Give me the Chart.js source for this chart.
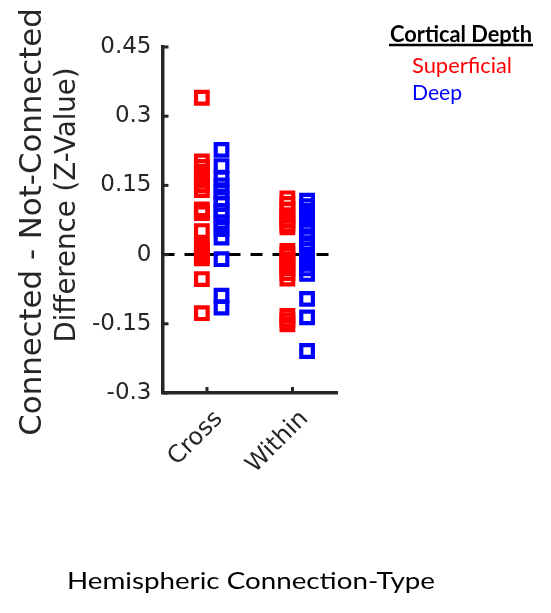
<!DOCTYPE html>
<html>
<head>
<meta charset="utf-8">
<script src="https://cdn.jsdelivr.net/npm/chart.js@4.4.0/dist/chart.umd.min.js"></script>
<style>
  html, body { margin: 0; padding: 0; background: #fff; }
</style>
</head>
<body>
<canvas id="chart" width="551" height="613"></canvas>
<script>
// Categorías del eje x y marcas del eje y
const categories = ['Cross', 'Within'];
const yTicks = [-0.3, -0.15, 0, 0.15, 0.3, 0.45];
const seriesNames = ['Superficial', 'Deep'];

// Valores (Z-Value)
const superficialCross = [0.34, 0.202, 0.19, 0.18, 0.17, 0.16, 0.15, 0.14,
  0.098, 0.094, 0.09, 0.051, 0.017, 0.01, 0.003, -0.003, -0.008, -0.053, -0.127];
const superficialWithin = [0.122, 0.11, 0.098, 0.085, 0.075, 0.065, 0.059,
  0.008, 0.0, -0.01, -0.02, -0.03, -0.04, -0.052, -0.133, -0.142, -0.151];
const deepCross = [0.227, 0.192, 0.165, 0.15, 0.135, 0.12, 0.11, 0.095, 0.085,
  0.07, 0.055, 0.037, -0.01, -0.089, -0.115];
const deepWithin = [0.117, 0.105, 0.095, 0.085, 0.077, 0.065, 0.05, 0.035, 0.02,
  0.01, 0.0, -0.01, -0.02, -0.03, -0.042, -0.096, -0.136, -0.209];

const RED = '#ff0000';
const BLUE = '#0000ff';
const AXIS_COLOR = '#262626';
const X_MIN = 0.48;
const X_MAX = 2.52;
const RED_OFFSET = -0.06;
const BLUE_OFFSET = 0.17;

// Convertir valores a puntos {x, y}
function toPoints(values, catIndex, offset) {
  return values.map(v => ({ x: catIndex + 1 + offset, y: v }));
}

function formatTick(v) {
  return String(Math.round(v * 100) / 100);
}

// Escribir texto ajustado a un ancho dado (escala horizontal)
function fillTextFit(ctx, text, left, baseline, width) {
  const measured = ctx.measureText(text).width;
  ctx.save();
  ctx.translate(left, baseline);
  ctx.scale(width / measured, 1);
  ctx.textAlign = 'left';
  ctx.fillText(text, 0, 0);
  ctx.restore();
}

// Textos: títulos de ejes, leyenda y marcas hacia adentro
const decorPlugin = {
  id: 'decor',
  afterDraw(chart) {
    const { ctx, chartArea, scales } = chart;
    const x = scales.x;
    const y = scales.y;
    ctx.save();

    // marcas hacia adentro
    ctx.strokeStyle = AXIS_COLOR;
    ctx.lineWidth = 3;
    yTicks.forEach(v => {
      const py = y.getPixelForValue(v);
      ctx.beginPath();
      ctx.moveTo(chartArea.left, py);
      ctx.lineTo(chartArea.left + 6, py);
      ctx.stroke();
    });
    categories.forEach((c, i) => {
      const px = x.getPixelForValue(i + 1);
      ctx.beginPath();
      ctx.moveTo(px, chartArea.bottom);
      ctx.lineTo(px, chartArea.bottom - 6);
      ctx.stroke();
    });

    // título del eje y (dos líneas)
    ctx.fillStyle = AXIS_COLOR;
    ctx.textAlign = 'center';
    ctx.textBaseline = 'middle';
    ctx.save();
    ctx.translate(33, 222);
    ctx.rotate(-Math.PI / 2);
    ctx.font = '30.8px "DejaVu Sans"';
    ctx.fillText('Connected - Not-Connected', 0, 0);
    ctx.restore();
    ctx.save();
    ctx.translate(68, 205);
    ctx.rotate(-Math.PI / 2);
    ctx.font = '27.6px "DejaVu Sans"';
    ctx.fillText('Difference (Z-Value)', 0, 0);
    ctx.restore();

    // título del eje x
    ctx.fillStyle = '#000';
    ctx.textBaseline = 'alphabetic';
    ctx.font = '24px Lato';
    fillTextFit(ctx, 'Hemispheric Connection-Type', 67, 588.5, 368);

    // leyenda
    ctx.font = 'bold 22px Lato';
    fillTextFit(ctx, 'Cortical Depth', 390, 41.5, 142);
    ctx.strokeStyle = '#000';
    ctx.lineWidth = 2.5;
    ctx.beginPath();
    ctx.moveTo(389, 45);
    ctx.lineTo(533, 45);
    ctx.stroke();
    ctx.font = '22px Lato';
    ctx.fillStyle = RED;
    fillTextFit(ctx, seriesNames[0], 412, 72.5, 100);
    ctx.fillStyle = BLUE;
    fillTextFit(ctx, seriesNames[1], 412, 99.5, 50);

    ctx.restore();
  }
};

const ctx = document.getElementById('chart');
new Chart(ctx, {
  type: 'scatter',
  data: {
    datasets: [
      {
        label: seriesNames[0],
        data: toPoints(superficialCross, 0, RED_OFFSET).concat(toPoints(superficialWithin, 1, RED_OFFSET)),
        pointStyle: 'rect',
        pointRadius: 8.2,
        pointBorderWidth: 4.2,
        pointBorderColor: RED,
        pointBackgroundColor: 'rgba(0,0,0,0)',
        order: 2
      },
      {
        label: seriesNames[1],
        data: toPoints(deepCross, 0, BLUE_OFFSET).concat(toPoints(deepWithin, 1, BLUE_OFFSET)),
        pointStyle: 'rect',
        pointRadius: 8.2,
        pointBorderWidth: 4.2,
        pointBorderColor: BLUE,
        pointBackgroundColor: 'rgba(0,0,0,0)',
        order: 1
      },
      {
        type: 'line',
        label: 'zero',
        data: [{ x: X_MIN, y: 0 }, { x: X_MAX, y: 0 }],
        borderColor: '#000',
        borderWidth: 3,
        borderDash: [12, 10],
        pointRadius: 0,
        order: 3
      }
    ]
  },
  options: {
    responsive: false,
    animation: false,
    devicePixelRatio: 1,
    events: [],
    layout: { padding: { top: 47, right: 214, left: 0, bottom: 0 } },
    plugins: {
      legend: { display: false },
      tooltip: { enabled: false }
    },
    scales: {
      x: {
        type: 'linear',
        min: X_MIN,
        max: X_MAX,
        afterBuildTicks: s => { s.ticks = categories.map((c, i) => ({ value: i + 1 })); },
        afterFit: s => { s.height = 220; },
        ticks: {
          callback: v => categories[v - 1] || '',
          autoSkip: false,
          minRotation: 45,
          maxRotation: 45,
          labelOffset: 12,
          padding: 12,
          color: AXIS_COLOR,
          font: { family: 'DejaVu Sans', size: 24 }
        },
        grid: { display: false, drawTicks: false },
        border: { display: true, color: AXIS_COLOR, width: 3.5 }
      },
      y: {
        min: -0.3,
        max: 0.45,
        afterBuildTicks: s => { s.ticks = yTicks.map(v => ({ value: v })); },
        afterFit: s => { s.width = 162.5; },
        ticks: {
          callback: v => formatTick(v),
          padding: 11,
          color: AXIS_COLOR,
          font: { family: 'DejaVu Sans', size: 23 }
        },
        grid: { display: false, drawTicks: false },
        border: { display: true, color: AXIS_COLOR, width: 3.5 }
      }
    }
  },
  plugins: [decorPlugin]
});
</script>
</body>
</html>
